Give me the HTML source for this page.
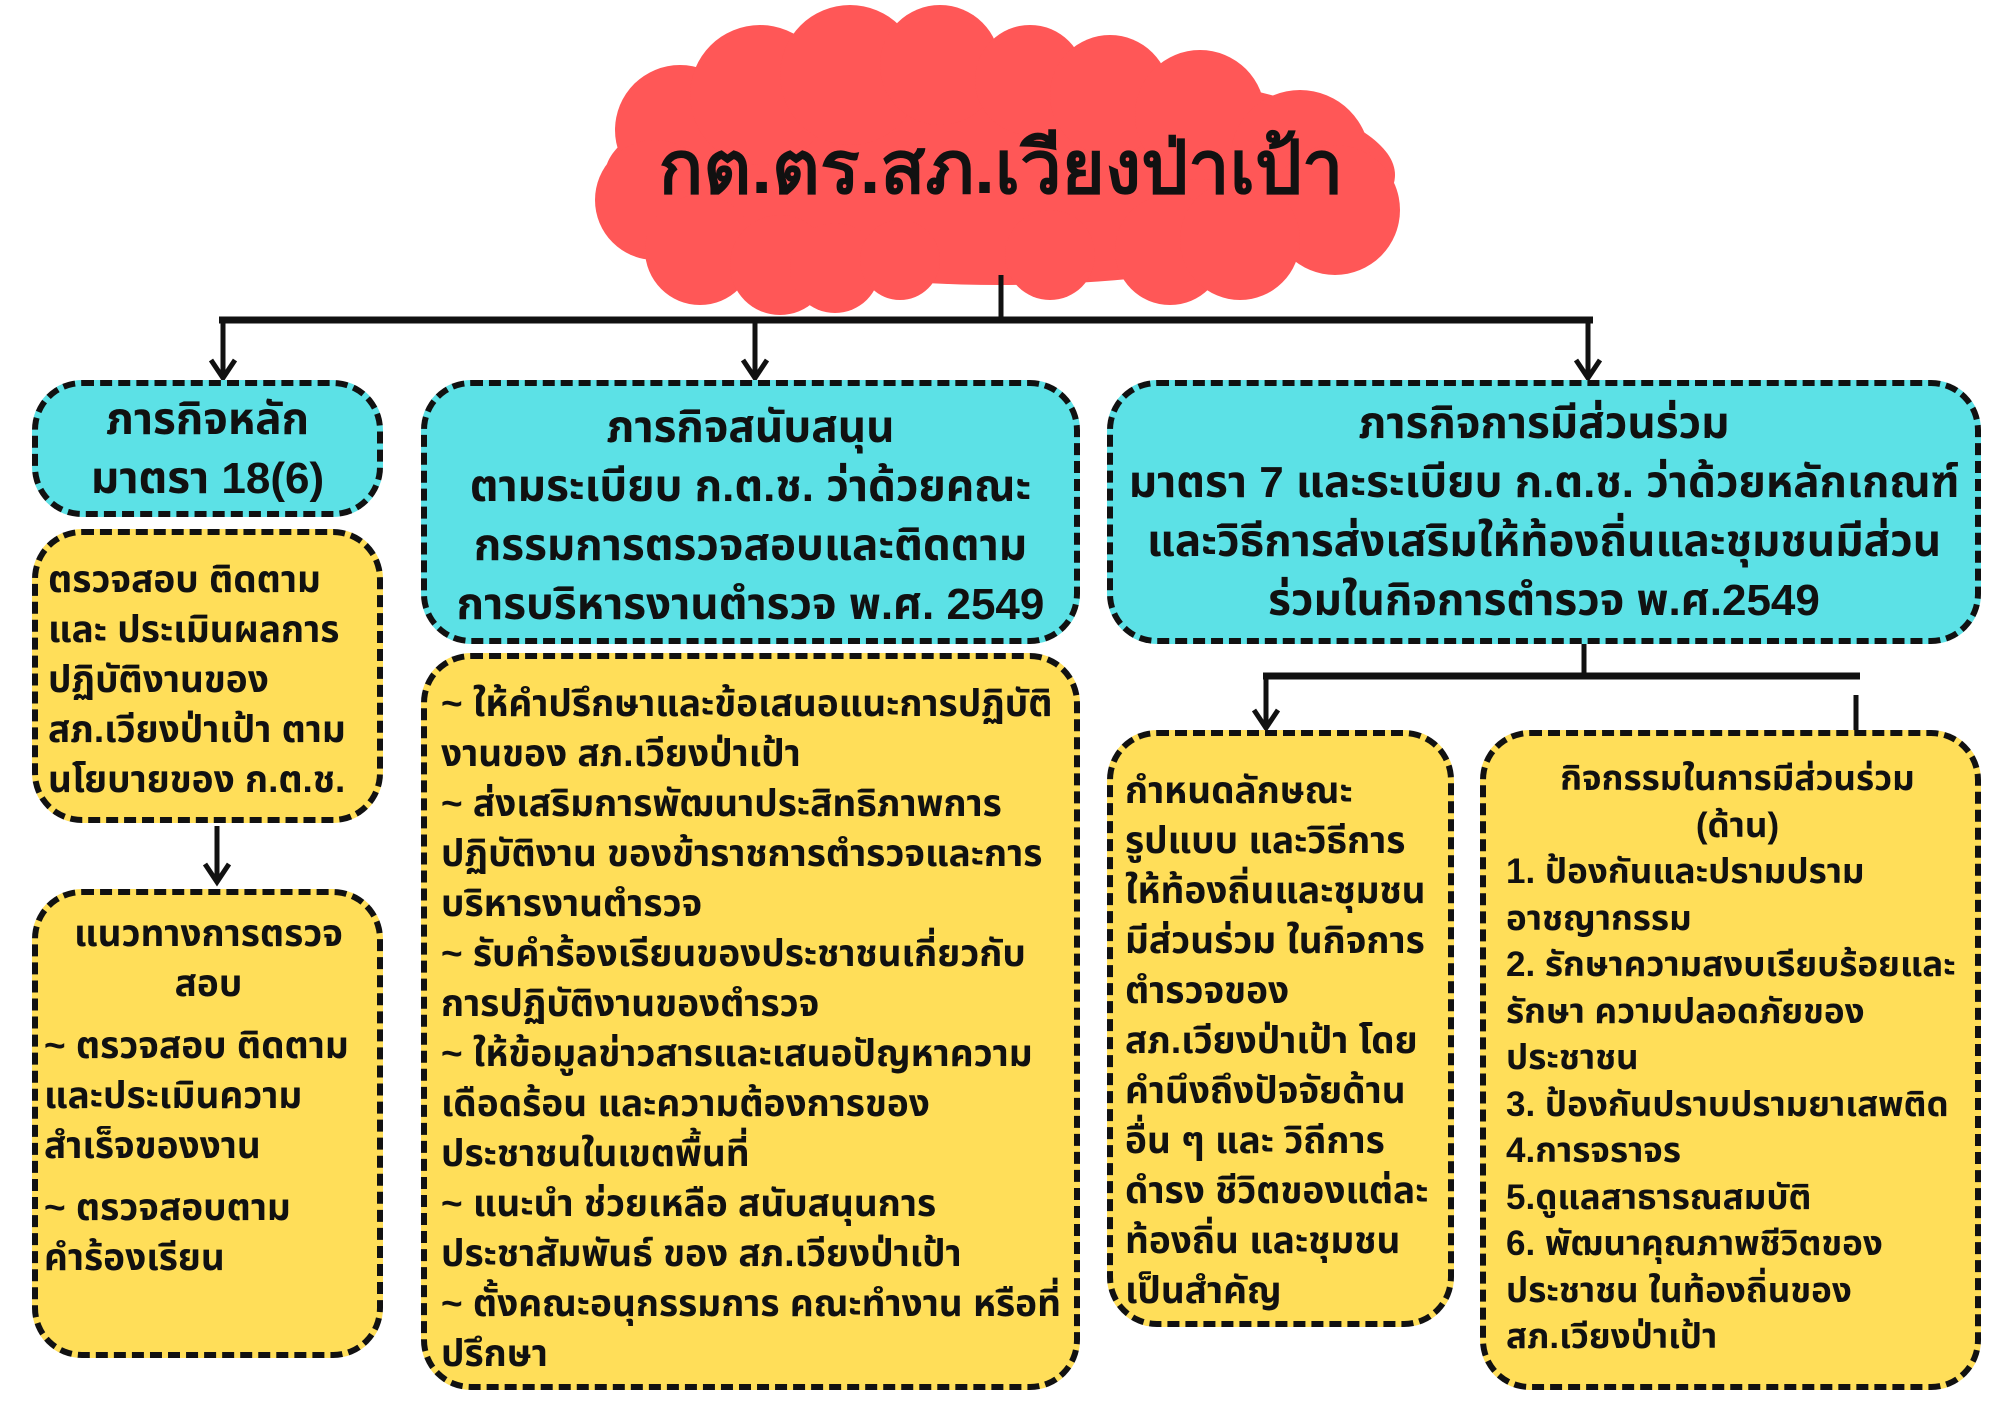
<!DOCTYPE html>
<html><head><meta charset="utf-8"><style>
body{margin:0;width:2000px;height:1414px;background:#fff;position:relative;overflow:hidden;font-family:"Liberation Sans","Noto Sans Thai","Loma","Garuda",sans-serif;font-weight:bold;color:#111}
.b{position:absolute;box-sizing:border-box;border:6px dashed #111;border-radius:50px;white-space:nowrap}
.c{background:#5ce1e6;text-align:center;font-size:44px;line-height:59px;}
.y{background:#ffde59;font-size:37px;line-height:50px;padding:14px 6px 0 10px;}
</style></head><body>
<svg style="position:absolute;left:0;top:0" width="2000" height="1414">
<g fill="#ff5757">
<ellipse cx="1000" cy="175" rx="395" ry="110"/>
<circle cx="680" cy="130" r="65"/><circle cx="760" cy="95" r="70"/><circle cx="850" cy="75" r="70"/><circle cx="940" cy="65" r="60"/><circle cx="1030" cy="80" r="55"/><circle cx="1110" cy="95" r="60"/><circle cx="1200" cy="115" r="65"/><circle cx="1300" cy="160" r="70"/><circle cx="1335" cy="210" r="65"/>
<circle cx="655" cy="200" r="60"/><circle cx="700" cy="250" r="55"/><circle cx="780" cy="265" r="50"/><circle cx="835" cy="268" r="45"/><circle cx="900" cy="260" r="40"/><circle cx="1050" cy="255" r="45"/><circle cx="1170" cy="250" r="55"/><circle cx="1240" cy="240" r="60"/>
</g>
<g stroke="#111" stroke-width="5" fill="none">
<line x1="1001" y1="275" x2="1001" y2="320"/>
<line x1="219" y1="320" x2="1593" y2="320" stroke-width="7"/>
<line x1="223" y1="320" x2="223" y2="376"/><line x1="755" y1="320" x2="755" y2="376"/><line x1="1588" y1="320" x2="1588" y2="376"/>
<polyline points="211,360 223,378 235,360"/><polyline points="743,360 755,378 767,360"/><polyline points="1576,360 1588,378 1600,360"/>
<line x1="1584" y1="644" x2="1584" y2="676"/>
<line x1="1263" y1="676" x2="1860" y2="676" stroke-width="7"/>
<line x1="1266" y1="676" x2="1266" y2="727"/><polyline points="1254,710 1266,728 1278,710"/>
<line x1="1856" y1="695" x2="1856" y2="730"/>
<line x1="217" y1="826" x2="217" y2="882"/><polyline points="205,864 217,882 229,864"/>
</g>
<text x="1001" y="193" text-anchor="middle" font-size="74" font-weight="bold" fill="#111" font-family="Liberation Sans, sans-serif">กต.ตร.สภ.เวียงป่าเป้า</text>
</svg>

<div class="b c" style="left:32px;top:380px;width:351px;height:137px;padding-top:4px">ภารกิจหลัก<br>มาตรา 18(6)</div>
<div class="b y" style="left:32px;top:529px;width:351px;height:294px;padding-top:20px;font-size:37px">ตรวจสอบ ติดตาม<br>และ ประเมินผลการ<br>ปฏิบัติงานของ<br>สภ.เวียงป่าเป้า ตาม<br>นโยบายของ ก.ต.ช.</div>
<div class="b y" style="left:32px;top:889px;width:351px;height:469px;padding:14px 4px 0 6px"><div style="text-align:center">แนวทางการตรวจ<br>สอบ</div><div style="margin-top:12px">~ ตรวจสอบ ติดตาม<br>และประเมินความ<br>สำเร็จของงาน</div><div style="margin-top:12px">~ ตรวจสอบตาม<br>คำร้องเรียน</div></div>

<div class="b c" style="left:421px;top:380px;width:659px;height:264px;padding-top:12px">ภารกิจสนับสนุน<br>ตามระเบียบ ก.ต.ช. ว่าด้วยคณะ<br>กรรมการตรวจสอบและติดตาม<br>การบริหารงานตำรวจ พ.ศ. 2549</div>
<div class="b y" style="left:421px;top:653px;width:659px;height:737px;padding-top:20px;padding-left:14px">~ ให้คำปรึกษาและข้อเสนอแนะการปฏิบัติ<br>งานของ สภ.เวียงป่าเป้า<br>~ ส่งเสริมการพัฒนาประสิทธิภาพการ<br>ปฏิบัติงาน ของข้าราชการตำรวจและการ<br>บริหารงานตำรวจ<br>~ รับคำร้องเรียนของประชาชนเกี่ยวกับ<br>การปฏิบัติงานของตำรวจ<br>~ ให้ข้อมูลข่าวสารและเสนอปัญหาความ<br>เดือดร้อน และความต้องการของ<br>ประชาชนในเขตพื้นที่<br>~ แนะนำ ช่วยเหลือ สนับสนุนการ<br>ประชาสัมพันธ์ ของ สภ.เวียงป่าเป้า<br>~ ตั้งคณะอนุกรรมการ คณะทำงาน หรือที่<br>ปรึกษา</div>

<div class="b c" style="left:1107px;top:380px;width:874px;height:264px;padding-top:8px">ภารกิจการมีส่วนร่วม<br>มาตรา 7 และระเบียบ ก.ต.ช. ว่าด้วยหลักเกณฑ์<br>และวิธีการส่งเสริมให้ท้องถิ่นและชุมชนมีส่วน<br>ร่วมในกิจการตำรวจ พ.ศ.2549</div>
<div class="b y" style="left:1107px;top:730px;width:347px;height:597px;padding-top:30px;padding-left:12px">กำหนดลักษณะ<br>รูปแบบ และวิธีการ<br>ให้ท้องถิ่นและชุมชน<br>มีส่วนร่วม ในกิจการ<br>ตำรวจของ<br>สภ.เวียงป่าเป้า โดย<br>คำนึงถึงปัจจัยด้าน<br>อื่น ๆ และ วิถีการ<br>ดำรง ชีวิตของแต่ละ<br>ท้องถิ่น และชุมชน<br>เป็นสำคัญ</div>
<div class="b y" style="left:1480px;top:730px;width:501px;height:660px;padding-top:20px;padding-left:20px;line-height:46.5px;font-size:35px"><div style="text-align:center">กิจกรรมในการมีส่วนร่วม<br>(ด้าน)</div>1. ป้องกันและปรามปราม<br>อาชญากรรม<br>2. รักษาความสงบเรียบร้อยและ<br>รักษา ความปลอดภัยของ<br>ประชาชน<br>3. ป้องกันปราบปรามยาเสพติด<br>4.การจราจร<br>5.ดูแลสาธารณสมบัติ<br>6. พัฒนาคุณภาพชีวิตของ<br>ประชาชน ในท้องถิ่นของ<br>สภ.เวียงป่าเป้า</div>
</body></html>
